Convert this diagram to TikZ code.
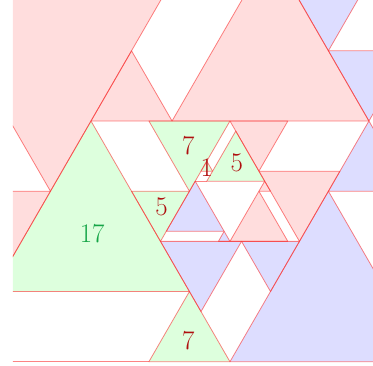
\documentclass[tikz,border=0pt]{standalone}
\usepackage{fontspec}
\definecolor{tilepink}{RGB}{255,221,221}
\definecolor{tilegreen}{RGB}{221,255,221}
\definecolor{tileblue}{RGB}{221,221,255}
\definecolor{linered}{RGB}{250,50,50}
\definecolor{numred}{RGB}{175,15,15}
\definecolor{numgreen}{RGB}{20,165,70}
\newcommand\pinktris{-15.5/17/8.5/17/-3.5/-7, 0/0/7/0/3.5/7, 7/0/24/0/15.5/17, -13.5/-7/-3.5/-7/-8.5/-17, 12/0/17/0/14.5/-5, 14.5/-7/15.5/-7/15/-6, 14.5/-5/21.5/-5/18/-12, 12/-12/17/-12/14.5/-7}
\newcommand\greentris{-8.5/-17/8.5/-17/0/0, 5/0/12/0/8.5/-7, 10/-6/15/-6/12.5/-1, 3.5/-7/8.5/-7/6/-12, 5/-24/12/-24/8.5/-17, 9.5/-5/10.5/-5/10/-4}
\newcommand\bluetris{15.5/17/25.5/17/20.5/7, 20.5/7/27.5/7/24/0, 20.5/-7/27.5/-7/24/0, 12/-24/29/-24/20.5/-7, 6.5/-11/11.5/-11/9/-6, 11/-12/12/-12/11.5/-11, 6/-12/13/-12/9.5/-19, 13/-12/18/-12/15.5/-17}
\begin{document}
\begin{tikzpicture}[x=11.58bp, y=10.03bp,
  tileline/.style={draw=linered, draw opacity=0.6, line width=0.8bp, line join=round},
  sizelabel/.style={font=\fontsize{27}{27}\selectfont, text=numred, inner sep=0pt}]
\useasboundingbox (-7.858,-24.327) rectangle (24.352,12.064);
\clip (-6.736,-24.12) rectangle (24.352,12.064);
\foreach \ax/\ay/\bx/\by/\cx/\cy in \pinktris
  \fill[tilepink] (\ax,\ay) -- (\bx,\by) -- (\cx,\cy) -- cycle;
\foreach \ax/\ay/\bx/\by/\cx/\cy in \greentris
  \fill[tilegreen] (\ax,\ay) -- (\bx,\by) -- (\cx,\cy) -- cycle;
\foreach \ax/\ay/\bx/\by/\cx/\cy in \bluetris
  \fill[tileblue] (\ax,\ay) -- (\bx,\by) -- (\cx,\cy) -- cycle;
\foreach \ax/\ay/\bx/\by/\cx/\cy in \pinktris
  \draw[tileline] (\ax,\ay) -- (\bx,\by) -- (\cx,\cy) -- cycle;
\foreach \ax/\ay/\bx/\by/\cx/\cy in \greentris
  \draw[tileline] (\ax,\ay) -- (\bx,\by) -- (\cx,\cy) -- cycle;
\foreach \ax/\ay/\bx/\by/\cx/\cy in \bluetris
  \draw[tileline] (\ax,\ay) -- (\bx,\by) -- (\cx,\cy) -- cycle;
\draw[tileline] (-8,-24) -- (5,-24);
\draw[tileline] (9,-6) -- (10,-6);
\node[sizelabel, text=numgreen] (s17) at (0.1,-11.2) {17};
\node[sizelabel] (s7top) at (8.4,-2.5) {7};
\node[sizelabel] (s5right) at (12.6,-4.2) {5};
\node[sizelabel] (s5left) at (6.1,-8.6) {5};
\node[sizelabel] (s7bottom) at (8.4,-21.9) {7};
\node[sizelabel] (s1) at (10,-4.6) {1};
\end{tikzpicture}
\end{document}
